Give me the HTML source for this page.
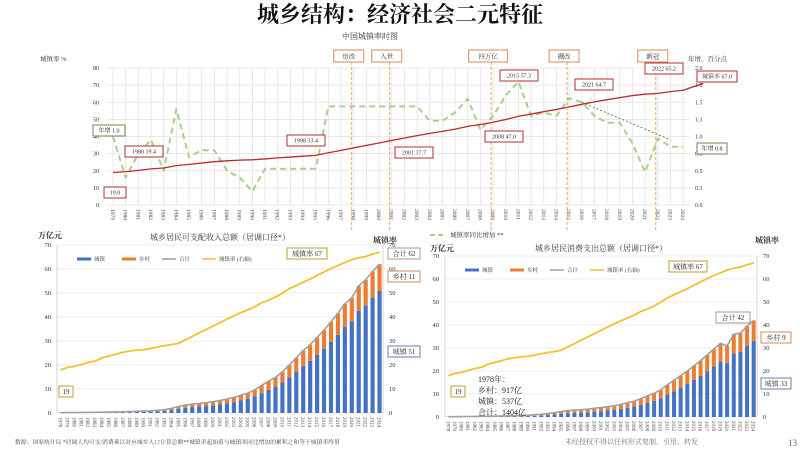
<!DOCTYPE html><html><head><meta charset="utf-8"><style>
body{margin:0;background:#fff;width:800px;height:450px;overflow:hidden;font-family:"Liberation Serif","Noto Serif CJK SC",serif}
svg text{font-family:"Liberation Serif","Noto Serif CJK SC",serif}
</style></head><body>
<svg id="s" width="800" height="450" xmlns="http://www.w3.org/2000/svg"></svg>
<script>
const S=document.getElementById('s');let h='';
function T(x,y,t,o={}){h+=`<text x="${x}" y="${y}" font-size="${o.s||7}" fill="${o.c||'#333'}" text-anchor="${o.a||'start'}" ${o.w?'font-weight="bold"':''} ${o.r?`transform="rotate(${o.r} ${x} ${y})"`:''} font-family="${o.f||''}">${t}</text>`}
function L(x1,y1,x2,y2,c,w,d){h+=`<line x1="${x1}" y1="${y1}" x2="${x2}" y2="${y2}" stroke="${c}" stroke-width="${w||1}" ${d?`stroke-dasharray="${d}"`:''}/>`}
function P(pts,c,w,d){h+=`<polyline points="${pts.map(p=>p.join(',')).join(' ')}" fill="none" stroke="${c}" stroke-width="${w}" ${d?`stroke-dasharray="${d}"`:''} stroke-linejoin="round"/>`}
function B(x,y,w,hh,t,c,fs,tc){h+=`<rect x="${x}" y="${y}" width="${w}" height="${hh}" fill="#fff" stroke="${c}" stroke-width="1"/>`;T(x+w/2,y+hh/2+fs*0.36,t,{s:fs,c:tc||'#333',a:'middle'})}
T(400,22,'城乡结构：经济社会二元特征',{s:22,c:'#111',a:'middle',w:1,f:'Noto Sans CJK SC'});
T(370,39,'中国城镇率时图',{s:8,a:'middle'});
T(40,61,'城镇率 %',{s:6.5});T(688,61,'年增，百分点',{s:6.5});
const X0=107,X1=690,Y0=68,Y1=205,yr=y=>113+(y-1979)*12.67;
for(let y=1979;y<=2024;y++){L(yr(y),Y0,yr(y),Y1,'#e2e2e2',0.8);T(yr(y)-2,Y1+4,y,{s:5.5,r:90,c:'#444'})}
for(let i=0;i<=8;i++){let yy=Y1-i*(Y1-Y0)/8;L(X0,yy,X1,yy,'#e2e2e2',0.8);T(X0-8,yy+2,i*10,{s:6,a:'end'});T(X1+5,yy+2,(i*0.25).toFixed(1),{s:6})}
const U=[19.0,19.4,20.2,21.1,21.6,23.0,23.7,24.5,25.3,25.8,26.2,26.4,26.9,27.5,28.0,28.5,29.0,30.5,31.9,33.4,34.8,36.2,37.7,39.1,40.5,41.8,43.0,44.3,45.9,47.0,48.3,49.9,51.8,53.1,54.5,55.8,57.3,58.8,60.2,61.5,62.7,63.9,64.7,65.2,66.2,67.0];
const G=[1.0,0.4,0.75,0.95,0.5,1.4,0.7,0.8,0.8,0.5,0.4,0.2,0.53,0.53,0.53,0.53,0.53,1.44,1.44,1.44,1.44,1.44,1.44,1.44,1.44,1.23,1.23,1.35,1.55,1.1,1.3,1.6,1.8,1.3,1.35,1.3,1.56,1.5,1.3,1.2,1.2,0.9,0.48,0.97,0.85,0.85];
const gy=v=>Y1-v/2*(Y1-Y0), uy=v=>Y1-v/80*(Y1-Y0);
P(G.map((v,i)=>[yr(1979+i),gy(v)]),'#a8cf8e',2,'6,4');
P([[yr(2016),gy(1.5)],[yr(2023),gy(0.95)]],'#4a6b3a',0.8,'2,2');
P(U.map((v,i)=>[yr(1979+i),uy(v)]).concat([[yr(2024)+20,uy(71)]]),'#c0282d',1.3);
[[1998,'房改'],[2001,'入世'],[2009,'四万亿'],[2015,'棚改'],[2022,'新冠']].forEach(([y,t])=>{let x=yr(y)-2;L(x,62,x,232,'#ed8b3a',0.8,'3,2');let w=t.length*9+12;B(x-w/2-3,50,w,12,t,'#d98a5a',6.5);});
const rb=(x,y,t,w)=>B(x,y,w||38,11,t,'#b03030',6);
rb(104,187,'19.0',22);rb(125,146,'1980 19.4');rb(287,135,'1998 33.4');rb(395,147,'2001 37.7');rb(485,131,'2008 47.0');rb(500,70,'2015 57.3');rb(575,79,'2021 64.7');rb(645,63,'2022 65.2');rb(697,71,'城镇率 67.0',40);
B(93,125,32,11,'年增 1.0','#6a8a50',6);B(697,143,30,11,'年增 0.8','#6a8a50',6);
L(430,235,446,235,'#a8cf8e',2,'5,3');T(450,237,'城镇率同比增加 **',{s:6.5});
function chart(x0,x1,y0,y1,tot,r0,r1,title){
 const n=47,bw=(x1-x0)/n,vy=v=>y1-v/70*(y1-y0);
 for(let i=0;i<=7;i++){let yy=vy(i*10);L(x0,yy,x1,yy,'#e6e6e6',0.8);T(x0-6,yy+2,i*10,{s:6.5,a:'end',f:'Liberation Sans'});T(x1+6,yy+2,i*10,{s:6.5,f:'Liberation Sans'})}
 L(x0,y0,x0,y1,'#ccc',0.8);L(x1,y0,x1,y1,'#ccc',0.8);
 const ur=[17.9].concat(U);const tp=[];
 tot.forEach((v,i)=>{let cx=x0+bw*(i+.5),r=r0+(r1-r0)*i/46,ub=v*(1-r);
  h+=`<rect x="${cx-bw*0.3}" y="${vy(ub)}" width="${bw*0.6}" height="${y1-vy(ub)}" fill="#4472c4"/>`;
  h+=`<rect x="${cx-bw*0.3}" y="${vy(v)}" width="${bw*0.6}" height="${vy(ub)-vy(v)}" fill="#ed7d31"/>`;
  tp.push([cx,vy(v)]);T(cx-2,y1+4,1978+i,{s:5,r:90,c:'#444'});});
 P(tp,'#a0a0a0',1.6);
 P(ur.map((v,i)=>[x0+bw*(i+.5),vy(v)]),'#f2c12e',1.8);
 T((x0+x1)/2,y0-5,title,{s:8,a:'middle'});
 const ly=y0+14,lx=x0+20;
 [['#4472c4','城镇'],['#ed7d31','乡村'],['#a0a0a0','合计'],['#f2c12e','城镇率 (右轴)']].forEach(([c,t],k)=>{let xx=lx+[0,45,85,125][k];L(xx,ly,xx+14,ly,c,k<2?3:1.5);T(xx+17,ly+2,t,{s:5.5})});
}
const inc=[0.14,0.17,0.2,0.23,0.27,0.3,0.35,0.4,0.45,0.52,0.62,0.7,0.8,0.9,1.1,1.4,1.9,2.7,3.3,3.7,4.0,4.3,4.7,5.2,5.8,6.5,7.4,8.3,9.6,11.5,13.3,14.8,17.2,20,23,26,28.5,31.5,34.5,38,41.5,45.5,48,53,55.5,59,62];
chart(57,383,245,413,inc,0.45,0.18,'城乡居民可支配收入总额（居调口径*）');
T(38,238,'万亿元',{s:8,w:1});T(373,243,'城镇率',{s:8,w:1});
B(287,248,40,11,'城镇率 67','#b8a030',7);B(388,248,32,11,'合计 62','#999',7);B(388,271,32,11,'乡村 11','#d98a5a',7);B(388,346,32,11,'城镇 51','#6080b0',7);B(59,386,14,11,'19','#b8a030',7);
const con=[0.14,0.16,0.19,0.22,0.25,0.28,0.32,0.37,0.42,0.48,0.58,0.66,0.75,1.0,1.2,1.5,1.9,2.3,2.8,3.0,3.2,3.4,3.8,4.1,4.5,4.9,5.5,6.2,6.9,8.0,9.2,10.3,11.8,14,16,18,20,22.3,24.5,27,29.5,32,31,36,36.5,39.5,42];
chart(445,757,256,417,con,0.55,0.21,'城乡居民消费支出总额（居调口径*）');
T(430,251,'万亿元',{s:8,w:1});T(755,243,'城镇率',{s:8,w:1});
B(669,261,38,11,'城镇率 67','#b8a030',7);B(716,312,34,11,'合计 42','#999',7);B(761,332,30,11,'乡村 9','#d98a5a',7);B(761,378,30,11,'城镇 33','#6080b0',7);B(451,386,14,11,'19','#b8a030',7);
T(478,382,'1978年：',{s:8,c:'#222',f:'Liberation Sans'});T(478,393,'乡村：917亿',{s:8,c:'#222',f:'Liberation Sans'});T(478,404,'城镇：537亿',{s:8,c:'#222',f:'Liberation Sans'});T(478,415,'合计：1404亿',{s:8,c:'#222',f:'Liberation Sans'});
T(15,444,'数源：国家统计局 *居调人均可支/消费乘以对应城乡人口计算总额**城镇率起始值与城镇率同比增加的累积之和等于城镇率终值',{s:5.8,c:'#444'});
T(565,444,'未经授权不得以任何形式复制、引用、转发',{s:7,c:'#777'});T(797,446,'13',{s:9,c:'#666',a:'end'});
S.innerHTML=h;
</script></body></html>
